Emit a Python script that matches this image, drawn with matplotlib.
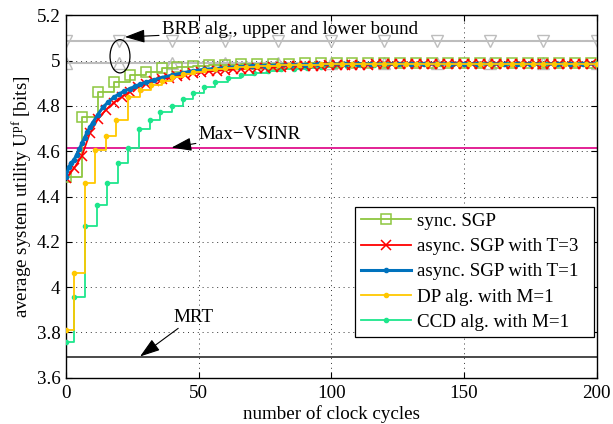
import numpy as np
import matplotlib
matplotlib.use("Agg")
import matplotlib.pyplot as plt
from matplotlib.patches import Ellipse

FS = 13.7
plt.rcParams['font.family'] = ['Liberation Serif', 'DejaVu Serif']
plt.rcParams['font.size'] = FS
plt.rcParams['mathtext.fontset'] = 'custom'
plt.rcParams['mathtext.rm'] = 'Liberation Serif'
plt.rcParams['mathtext.it'] = 'Liberation Serif:italic'

# --- data ---
# sync. SGP, one update every 6 clock cycles
sync_x = np.arange(0, 199, 6)
sync_y = [4.486, 4.752, 4.863, 4.907, 4.936, 4.951, 4.966, 4.973, 4.977, 4.980,
          4.982, 4.984, 4.985, 4.986, 4.987, 4.988, 4.988, 4.989, 4.989, 4.989,
          4.990, 4.990, 4.990, 4.990, 4.990, 4.990, 4.990, 4.990, 4.990, 4.990,
          4.990, 4.990, 4.990, 4.990]

# async. SGP with T=3 (markers every 3 cycles)
t3_x = np.arange(0, 199, 3)
t3_y = [4.480, 4.524, 4.580, 4.680, 4.741, 4.782, 4.814, 4.840, 4.862, 4.882,
        4.897, 4.908, 4.917, 4.925, 4.932, 4.938, 4.944, 4.948, 4.952, 4.955,
        4.958, 4.961, 4.963, 4.965, 4.967, 4.969, 4.971, 4.972, 4.974, 4.975,
        4.976, 4.977, 4.978, 4.979, 4.980, 4.981, 4.981, 4.982, 4.982, 4.983,
        4.983, 4.984, 4.984, 4.984, 4.985, 4.985, 4.985, 4.985, 4.985, 4.985,
        4.985, 4.985, 4.985, 4.985, 4.985, 4.985, 4.985, 4.985, 4.985, 4.985,
        4.985, 4.985, 4.985, 4.985, 4.985, 4.985, 4.985]

# async. SGP with T=1
t1_x = [0, 1, 2, 3, 4, 5, 6, 7, 8, 9, 10, 12, 14, 16, 18, 20, 22, 24, 26, 28,
        30, 33, 36, 40, 44, 48, 52, 56, 60, 65, 70, 75, 80, 85, 90, 95, 100,
        105, 110, 115, 120, 125, 130, 135, 140, 145, 150, 155, 160, 165, 170,
        175, 180, 185, 190, 195, 200]
t1_y = [4.486, 4.530, 4.548, 4.562, 4.585, 4.610, 4.635, 4.660, 4.685, 4.706,
        4.725, 4.762, 4.795, 4.818, 4.838, 4.853, 4.865, 4.876, 4.886, 4.896,
        4.904, 4.914, 4.925, 4.936, 4.946, 4.955, 4.961, 4.965, 4.969, 4.973,
        4.976, 4.978, 4.980, 4.981, 4.982, 4.983, 4.984, 4.985, 4.985, 4.985,
        4.985, 4.985, 4.985, 4.985, 4.985, 4.985, 4.985, 4.985, 4.985, 4.985,
        4.985, 4.985, 4.985, 4.985, 4.985, 4.985, 4.985]

# DP alg. with M=1 (step updates)
dp_x = [0, 3, 7, 11, 15, 19, 23.5, 28, 32, 36, 40, 44, 48, 52, 56, 60, 64, 68,
        72, 76, 80, 84, 88, 92, 96, 100, 104, 108, 112, 116, 120, 124, 128, 132,
        136, 140, 144, 148, 152, 156, 160, 164, 168, 172, 176, 180, 184, 188,
        192, 196, 200]
dp_y = [3.810, 4.061, 4.458, 4.605, 4.667, 4.738, 4.840, 4.870, 4.892, 4.910,
        4.928, 4.940, 4.950, 4.957, 4.962, 4.966, 4.970, 4.973, 4.975, 4.977,
        4.979, 4.980, 4.981, 4.982, 4.983, 4.984, 4.985, 4.985, 4.985, 4.985,
        4.985, 4.985, 4.985, 4.985, 4.985, 4.985, 4.985, 4.985, 4.985, 4.985,
        4.985, 4.985, 4.985, 4.985, 4.985, 4.985, 4.985, 4.985, 4.985, 4.985,
        4.985]

# CCD alg. with M=1 (step updates)
ccd_x = [0, 3, 7, 11.5, 15.5, 19.5, 23.5, 27.5, 31.5, 35.5, 40, 44, 48, 52, 56,
         61, 66, 71, 76, 81, 86, 91, 96, 101, 106, 111, 116, 121, 126, 131, 136,
         141, 146, 151, 156, 161, 166, 171, 176, 181, 186, 191, 196, 200]
ccd_y = [3.757, 3.958, 4.270, 4.364, 4.458, 4.548, 4.616, 4.699, 4.736, 4.773,
         4.798, 4.829, 4.858, 4.885, 4.904, 4.922, 4.936, 4.947, 4.955, 4.961,
         4.965, 4.969, 4.972, 4.975, 4.977, 4.979, 4.981, 4.982, 4.983, 4.984,
         4.985, 4.985, 4.985, 4.985, 4.985, 4.985, 4.985, 4.985, 4.985, 4.985,
         4.985, 4.985, 4.985, 4.985]

# reference levels
brb_upper = 5.087
brb_lower = 4.991
brb_x = np.arange(0, 201, 20)
max_vsinr = 4.612
mrt = 3.693

fig = plt.figure(figsize=(6.13, 4.24), dpi=100)
ax = fig.add_axes([0.1077, 0.109, 0.8654, 0.855])

gray = '#bdbdbd'
ax.plot(brb_x, [brb_upper] * len(brb_x), color=gray, lw=1.5, marker='v',
        ms=8, mfc='none', mec=gray, mew=1.0, zorder=2)
ax.plot(brb_x, [brb_lower] * len(brb_x), color=gray, lw=1.5, marker='^',
        ms=8, mfc='none', mec=gray, mew=1.0, zorder=2)
ax.axhline(max_vsinr, color='#e0108c', lw=1.3, zorder=2)
ax.axhline(mrt, color='#3a3a3a', lw=1.3, zorder=2)

# trailing spaces give the wider right margin of the original legend box
ax.plot(sync_x, sync_y, color='#8dc63f', lw=1.3, drawstyle='steps-post',
        marker='s', ms=6.5, mfc='none', mew=1.1, label='sync. SGP  ', zorder=3)
ax.plot(t3_x, t3_y, color='#ff0000', lw=1.3, marker='x', ms=6.5, mew=1.1,
        label='async. SGP with T=3  ', zorder=4)
ax.plot(t1_x, t1_y, color='#0072bd', lw=2.2, marker='.', ms=6,
        label='async. SGP with T=1  ', zorder=5)
ax.plot(dp_x, dp_y, color='#ffc800', lw=1.3, drawstyle='steps-post',
        marker='.', ms=6, label='DP alg. with M=1  ', zorder=6)
ax.plot(ccd_x, ccd_y, color='#1ee68c', lw=1.3, drawstyle='steps-post',
        marker='.', ms=6, label='CCD alg. with M=1  ', zorder=3)

# annotations
ax.add_patch(Ellipse((20.35, 5.019), 7.5, 0.147, fill=False, ec='k', lw=0.9,
                     zorder=7))
arrow = dict(arrowstyle='-|>,head_length=0.9,head_width=0.3', color='k',
             lw=0.8, shrinkA=0, shrinkB=0)
ax.annotate('BRB alg., upper and lower bound', xy=(22.2, 5.104),
            xytext=(36.1, 5.138), va='center', ha='left', arrowprops=arrow,
            zorder=8)
ax.annotate('Max\u2212VSINR', xy=(39.8, 4.616), xytext=(50.0, 4.675),
            va='center', ha='left', arrowprops=arrow, zorder=8)
ax.annotate('MRT', xy=(27.9, 3.694), xytext=(40.5, 3.868), va='center',
            ha='left', arrowprops=arrow, zorder=8)

ax.set_xlim(0, 200)
ax.set_ylim(3.6, 5.2)
ax.set_xticks([0, 50, 100, 150, 200])
ax.set_yticks(np.round(np.arange(3.6, 5.21, 0.2), 1))
ax.set_yticklabels(['3.6', '3.8', '4', '4.2', '4.4', '4.6', '4.8', '5', '5.2'])
ax.tick_params(direction='in', top=True, right=True, length=4, width=0.8,
               labelsize=FS)
ax.tick_params(axis='x', pad=5.5)
ax.tick_params(axis='y', pad=4)
ax.grid(True, color='#333333', linestyle=(0, (1, 4)), lw=0.7)
for s in ax.spines.values():
    s.set_linewidth(1.0)

ax.set_xlabel('number of clock cycles', fontsize=FS, labelpad=2)
ax.set_ylabel(r'average system utility U$^{\mathrm{pf}}$ [bits]', fontsize=FS,
              labelpad=2)

leg = ax.legend(loc='lower right', bbox_to_anchor=(0.995, 0.113),
                borderaxespad=0, fontsize=FS, numpoints=1, handlelength=2.65,
                handletextpad=0.3, labelspacing=0.42, borderpad=0.3,
                fancybox=False, framealpha=1, edgecolor='k')
leg.get_frame().set_linewidth(0.9)
leg.set_zorder(10)

fig.savefig('out.png', dpi=100)
